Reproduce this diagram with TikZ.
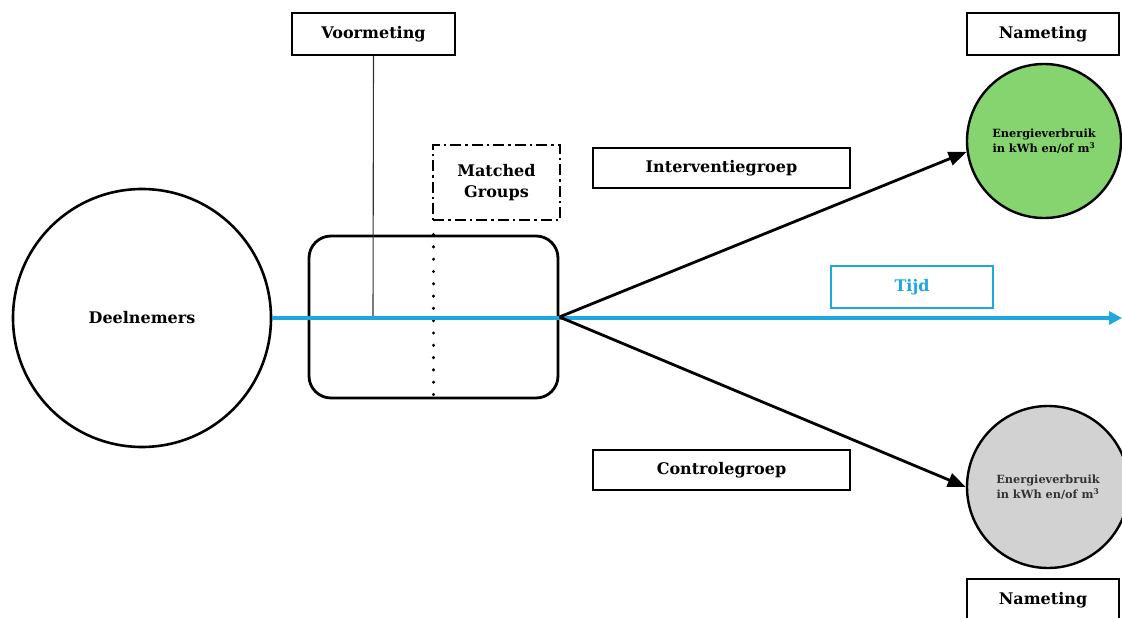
\documentclass[tikz,border=0pt]{standalone}
\usepackage{fontspec}
\setmainfont{DejaVu Serif}
\usetikzlibrary{arrows.meta}
\definecolor{tblue}{RGB}{30,168,224}
\definecolor{tgreen}{RGB}{134,212,112}
\definecolor{tgray}{RGB}{210,210,210}
\tikzset{
  lbl/.style={draw=black, line width=1.8pt, font=\bfseries\fontsize{16}{21}\selectfont, inner sep=0pt},
  bigcirc/.style={circle, draw=black, line width=2.6pt, inner sep=0pt},
  resc/.style={circle, draw=black, line width=2.4pt, inner sep=0pt, align=center, font=\bfseries\fontsize{11.3}{15}\selectfont},
  conn/.style={line width=2.8pt, -{Triangle[length=18pt,width=14pt]}}
}
\begin{document}
\begin{tikzpicture}[x=1pt,y=-1pt]
\useasboundingbox (0,0) rectangle (1122,618);
\clip (0,0) rectangle (1122,618);
\fill[white] (0,0) rectangle (1122,618);

% participants
\node[bigcirc, minimum size=258pt, font=\bfseries\fontsize{16}{20}\selectfont] (deel) at (142,318) {Deelnemers};

% rounded box
\node[draw=black, line width=2.8pt, rounded corners=22pt, minimum width=249pt, minimum height=162pt, inner sep=0pt] (rbox) at (433.5,317) {};
\draw[line width=3.4pt, line cap=round, dash pattern=on 0pt off 12.3pt] (rbox.north) -- (rbox.south);

% voormeting
\node[lbl, minimum width=163pt, minimum height=42pt] (voor) at (373.5,34) {Voormeting};
\coordinate (voorend) at (373,318);
\draw[line width=1.1pt, black!80] (voor.south) -- (voorend);

% matched groups
\node[lbl, line width=2pt, dash pattern=on 11pt off 4pt on 2.5pt off 4pt, minimum width=127pt, minimum height=75pt, align=center] (match) at (496.5,182.5) {Matched\\Groups};

% result circles
\node[resc, fill=tgreen, minimum size=154pt] (green) at (1044,141) {Energieverbruik\\in kWh en/of m\textsuperscript{3}};
\node[resc, fill=tgray, minimum size=162pt, text=black!80] (gray) at (1048,487) {Energieverbruik\\in kWh en/of m\textsuperscript{3}};

% labels
\node[lbl, minimum width=257pt, minimum height=40pt] (int) at (721.5,168) {Interventiegroep};
\node[lbl, minimum width=257pt, minimum height=40pt] (con) at (721.5,470) {Controlegroep};
\node[lbl, minimum width=152pt, minimum height=42pt] (nam1) at (1043,34) {Nameting};
\node[lbl, minimum width=152pt, minimum height=42pt] (nam2) at (1043,600) {Nameting};
\node[lbl, draw=tblue, text=tblue, line width=2pt, minimum width=162pt, minimum height=42pt] (tijd) at (912,287) {Tijd};

% time axis
\coordinate (tend) at (1122,318);
\draw[tblue, line width=3.4pt, -{Triangle[length=13pt,width=13pt]}] (deel.east) -- (tend);

% branches
\draw[conn] (rbox.east) -- (green.188);
\draw[conn] (rbox.east) -- (gray.180);
\end{tikzpicture}
\end{document}
